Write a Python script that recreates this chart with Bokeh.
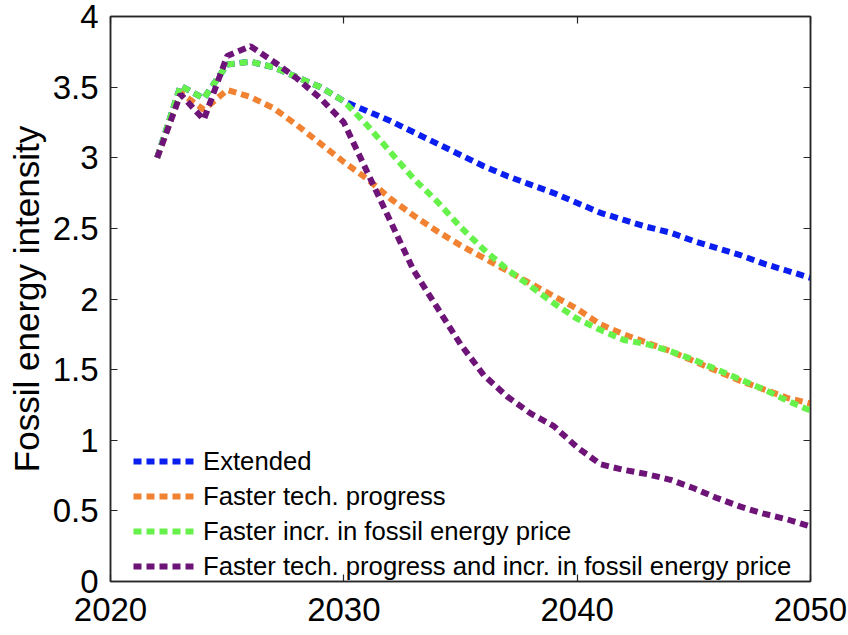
from bokeh.plotting import figure
from bokeh.models import (LinearAxis, FixedTicker, NumeralTickFormatter, Range1d,
                          Legend, LegendItem)
from bokeh.embed import file_html
from bokeh.resources import INLINE

years = list(range(2022, 2051))

extended = [3.00, 3.51, 3.42, 3.66, 3.68, 3.64, 3.57, 3.50,
            3.40, 3.33, 3.26, 3.18, 3.10, 3.02, 2.94, 2.87, 2.81, 2.75,
            2.68, 2.61, 2.56, 2.51, 2.47, 2.41, 2.36, 2.31, 2.25, 2.20, 2.15]
faster_tech = [3.00, 3.46, 3.34, 3.48, 3.43, 3.35, 3.23, 3.10,
               2.97, 2.85, 2.71, 2.59, 2.48, 2.38, 2.29, 2.20, 2.11, 2.02,
               1.93, 1.82, 1.75, 1.69, 1.63, 1.56, 1.49, 1.42, 1.36, 1.30, 1.26]
faster_price = [3.00, 3.51, 3.42, 3.66, 3.68, 3.64, 3.57, 3.50,
                3.40, 3.23, 3.04, 2.85, 2.69, 2.51, 2.35, 2.21, 2.09, 1.97,
                1.86, 1.78, 1.71, 1.68, 1.63, 1.57, 1.50, 1.43, 1.36, 1.28, 1.21]
faster_both = [3.00, 3.45, 3.27, 3.72, 3.79, 3.68, 3.56, 3.42,
               3.25, 2.90, 2.55, 2.20, 1.94, 1.68, 1.46, 1.31, 1.19, 1.10,
               0.95, 0.83, 0.79, 0.76, 0.72, 0.66, 0.59, 0.53, 0.48, 0.44, 0.39]

series_names = ["Extended", "Faster tech. progress",
                "Faster incr. in fossil energy price",
                "Faster tech. progress and incr. in fossil energy price"]
series_colors = ["#0A1EF0", "#F08232", "#66F24A", "#6E1478"]

x_ticks = [2020, 2030, 2040, 2050]
y_ticks = [0, 0.5, 1, 1.5, 2, 2.5, 3, 3.5, 4]

FONT = "Liberation Sans"
AX = "#262626"

p = figure(width=848, height=635, x_range=Range1d(2020, 2050), y_range=Range1d(0, 4),
           output_backend="svg", toolbar_location=None,
           min_border_left=110, min_border_right=38, min_border_top=16, min_border_bottom=54)
p.xgrid.visible = False
p.ygrid.visible = False
p.outline_line_color = AX
p.outline_line_width = 1.5
p.background_fill_color = "white"
p.border_fill_color = "white"

for ax in (p.xaxis[0], p.yaxis[0]):
    ax.axis_line_color = AX
    ax.axis_line_width = 1.5
    ax.major_tick_line_color = AX
    ax.major_tick_line_width = 1.2
    ax.major_tick_in = 7
    ax.major_tick_out = 0
    ax.minor_tick_line_color = None
    ax.major_label_text_font = FONT
    ax.major_label_text_font_size = "33px"
    ax.major_label_text_color = "black"

p.xaxis.ticker = FixedTicker(ticks=x_ticks)
p.xaxis.major_label_standoff = 16
p.yaxis.ticker = FixedTicker(ticks=y_ticks)
p.yaxis.formatter = NumeralTickFormatter(format="0.[0]")
p.yaxis.major_label_standoff = 12
p.yaxis.axis_label = "Fossil energy intensity"
p.yaxis.axis_label_text_font = FONT
p.yaxis.axis_label_text_font_size = "35px"
p.yaxis.axis_label_text_font_style = "normal"
p.yaxis.axis_label_text_color = "black"
p.yaxis.axis_label_standoff = 4

def bare_axis(ticks):
    a = LinearAxis(ticker=FixedTicker(ticks=ticks))
    a.axis_line_color = AX
    a.axis_line_width = 1.5
    a.major_tick_line_color = AX
    a.major_tick_line_width = 1.2
    a.major_tick_in = 7
    a.major_tick_out = 0
    a.minor_tick_line_color = None
    a.major_label_overrides = {t: "" for t in ticks}
    a.major_label_text_font_size = "1px"
    a.major_label_standoff = 0
    return a

p.add_layout(bare_axis(y_ticks), "right")
p.add_layout(bare_axis(x_ticks), "above")

items = []
for vals, name, col in zip([extended, faster_tech, faster_price, faster_both],
                           series_names, series_colors):
    r = p.line(years, vals, line_color=col, line_width=6, line_dash="8 5")
    items.append(LegendItem(label=name, renderers=[r]))

legend = Legend(items=items, location=(23, 0), glyph_width=64, glyph_height=30,
                label_height=30, spacing=5, padding=0, margin=0, label_standoff=6,
                background_fill_alpha=0, border_line_color=None,
                label_text_font=FONT, label_text_font_size="25.7px",
                label_text_color="black")
p.add_layout(legend)

open("out.html", "w").write(file_html(p, INLINE))
